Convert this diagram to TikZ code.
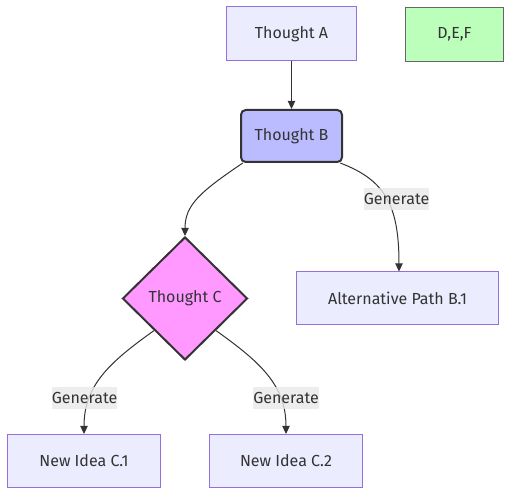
\documentclass[tikz,border=0pt]{standalone}
\usepackage{fontspec}
\setmainfont{Fira Sans}
\usetikzlibrary{shapes.geometric,arrows.meta}
\definecolor{nodefill}{HTML}{ECECFF}
\definecolor{nodestroke}{HTML}{9370DB}
\definecolor{dark}{HTML}{333333}
\definecolor{bfill}{HTML}{BBBBFF}
\definecolor{cfill}{HTML}{FF99FF}
\definecolor{gfill}{HTML}{BBFFBB}
\definecolor{gstroke}{HTML}{666666}
\definecolor{lblfill}{HTML}{E8E8E8}
\tikzset{
  px/.style={x=0.75pt,y=-0.75pt},
  base/.style={font=\fontsize{12pt}{14pt}\selectfont, text=dark, inner sep=0pt},
  plain/.style={base, rectangle, draw=nodestroke, fill=nodefill, line width=0.75pt, minimum height=40.5pt},
  strong/.style={base, rectangle, rounded corners=3.5pt, draw=dark, fill=bfill, line width=1.5pt, minimum width=75.75pt, minimum height=39pt},
  decision/.style={base, diamond, draw=dark, fill=cfill, line width=1.5pt, minimum width=93.75pt, minimum height=92.25pt},
  green/.style={base, rectangle, draw=gstroke, fill=gfill, line width=0.75pt, minimum width=73.5pt, minimum height=40.5pt},
  lbl/.style={base, fill=lblfill, fill opacity=0.8, text opacity=1, minimum width=49pt, minimum height=16.5pt},
  edge/.style={draw=dark, line width=0.75pt, -{Triangle[length=6pt,width=5.5pt]}},
}
\begin{document}
\begin{tikzpicture}[px]
\useasboundingbox (0,0) rectangle (519,503);
\node[plain, minimum width=97.5pt] (A) at (291.5,34) {Thought A};
\node[green] (D) at (454.5,34.25) {D,E,F};
\node[strong] (B) at (291.5,136) {Thought B};
\node[decision] (C) at (185,298.5) {Thought C};
\node[plain, minimum width=151.5pt, minimum height=39.75pt] (Alt) at (397.5,298.5) {Alternative Path B.1};
\node[plain, minimum width=114.75pt, minimum height=39.75pt] (C1) at (84,461) {New Idea C.1};
\node[plain, minimum width=114.75pt, minimum height=39.75pt] (C2) at (286,461) {New Idea C.2};

\draw[edge] (A) -- (B);
\draw[edge] (B.-151) .. controls (200,192) and (185,205) .. (C.north);
\draw[edge] (B.-29) .. controls (385,180) and (399,205) .. (Alt.north -| 399,0);
\draw[edge] (C.-134) .. controls (110,362) and (84,385) .. (C1.north);
\draw[edge] (C.-46) .. controls (260,362) and (286,385) .. (C2.north);

\node[lbl] (L1) at (396.5,199) {Generate};
\node[lbl] (L2) at (84.5,398) {Generate};
\node[lbl] (L3) at (286,398) {Generate};
\end{tikzpicture}
\end{document}
